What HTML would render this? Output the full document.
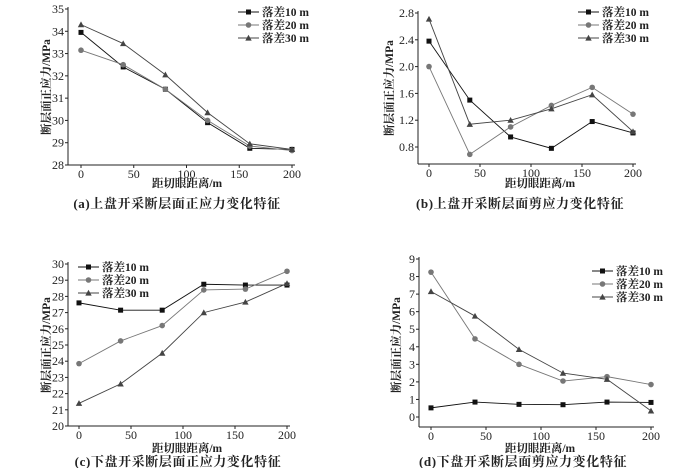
<!DOCTYPE html>
<html><head><meta charset="utf-8">
<style>
body{margin:0;background:#fff;}
svg{display:block;font-family:"Liberation Serif","Noto Serif CJK SC",serif;}
</style></head>
<body>
<svg id="chart" width="700" height="468" viewBox="0 0 700 468" xmlns="http://www.w3.org/2000/svg"></svg>
<script>
const xCats = [0, 40, 80, 120, 160, 200];
const xTicks = [0, 50, 100, 150, 200];
const seriesNames = ["落差10 m", "落差20 m", "落差30 m"];

const aTicks = [28, 29, 30, 31, 32, 33, 34, 35];
const a10 = [33.95, 32.4, 31.4, 29.9, 28.75, 28.7];
const a20 = [33.15, 32.5, 31.4, 30.0, 28.85, 28.65];
const a30 = [34.3, 33.45, 32.05, 30.35, 28.95, 28.7];

const bTicks = [0.8, 1.2, 1.6, 2.0, 2.4, 2.8];
const b10 = [2.38, 1.5, 0.95, 0.78, 1.18, 1.01];
const b20 = [2.0, 0.69, 1.1, 1.42, 1.69, 1.29];
const b30 = [2.71, 1.14, 1.2, 1.37, 1.58, 1.03];

const cTicks = [20, 21, 22, 23, 24, 25, 26, 27, 28, 29, 30];
const c10 = [27.6, 27.15, 27.15, 28.75, 28.7, 28.7];
const c20 = [23.85, 25.25, 26.2, 28.4, 28.45, 29.55];
const c30 = [21.4, 22.6, 24.5, 27.0, 27.65, 28.8];

const dTicks = [0, 1, 2, 3, 4, 5, 6, 7, 8, 9];
const d10 = [0.52, 0.85, 0.72, 0.7, 0.85, 0.83];
const d20 = [8.25, 4.45, 3.0, 2.05, 2.3, 1.85];
const d30 = [7.15, 5.75, 3.85, 2.5, 2.15, 0.35];

const NS = "http://www.w3.org/2000/svg";
const svg = document.getElementById("chart");
const colors = ["#111", "#777", "#444"];
const markers = ["square", "circle", "triangle"];

function mk(tag, attrs, parent) {
  const e = document.createElementNS(NS, tag);
  for (const k in attrs) e.setAttribute(k, attrs[k]);
  parent.appendChild(e);
  return e;
}
function txt(s, attrs, parent) { const t = mk("text", attrs, parent); t.textContent = s; return t; }
function marker(type, x, y, color, g) {
  let m;
  if (type === "square") m = mk("rect", {x: x - 2.5, y: y - 2.5, width: 5, height: 5, fill: color}, g);
  else if (type === "circle") m = mk("circle", {cx: x, cy: y, r: 2.8, fill: color}, g);
  else m = mk("polygon", {points: `${x},${y - 3.2} ${x - 3.2},${y + 2.6} ${x + 3.2},${y + 2.6}`, fill: color}, g);
  return m;
}

function panel(p) {
  const g = mk("g", {}, svg);
  
  
  const sx = v => p.x0 + (v - 0) * (p.x200 - p.x0) / 200;
  const sy = v => p.yb + (v - p.ymin) * (p.yt - p.yb) / (p.ymax - p.ymin);
  const axBottom = p.axB, axLeft = p.axL, axRight = p.x200 + 3;
  const ax = mk("g", {stroke: "#222", "stroke-width": 1, fill: "none"}, g);
  
  
  mk("line", {x1: axLeft, y1: axBottom, x2: axRight, y2: axBottom}, ax);
  mk("line", {x1: axLeft, y1: axBottom, x2: axLeft, y2: sy(p.ticks[p.ticks.length - 1]) - 2}, ax);
  xTicks.forEach(t => {
    mk("line", {x1: sx(t), y1: axBottom, x2: sx(t), y2: axBottom + 3}, ax);
    const l = txt(String(t), {x: sx(t), y: axBottom + 13, "text-anchor": "middle", "font-size": 12, fill: "#222"}, g);
    
    
  });
  p.ticks.forEach(t => {
    mk("line", {x1: axLeft, y1: sy(t), x2: axLeft - 3, y2: sy(t)}, ax);
    const l = txt(p.fmt(t), {x: axLeft - 4, y: sy(t) + 4, "text-anchor": "end", "font-size": 12, fill: "#222"}, g);
    
    
  });
  const yt = txt("断层面正应力/MPa", {x: 0, y: 0, transform: `translate(${p.ytx},${p.yty}) rotate(-90)`, "text-anchor": "middle", "font-size": 11.5, "font-weight": "bold", fill: "#222"}, g);
  
  
  const xt = txt("距切眼距离/m", {x: p.xtx, y: p.xty, "text-anchor": "middle", "font-size": 11.5, "font-weight": "bold", fill: "#222"}, g);
  
  
  const cap = txt(p.caption, {x: p.cx, y: p.cy, "text-anchor": "middle", "font-size": 13, "letter-spacing": "0.6", "font-weight": "bold", fill: "#222"}, g);
  
  

  p.series.forEach((vals, i) => {
    const sg = mk("g", {}, g);
    
    
    const pts = vals.map((v, j) => sx(xCats[j]) + "," + sy(v)).join(" ");
    mk("polyline", {points: pts, fill: "none", stroke: colors[i], "stroke-width": 0.9}, sg);
    vals.forEach((v, j) => {
      const m = marker(markers[i], sx(xCats[j]), sy(v), colors[i], sg);
      
      
    });
    const lg = mk("g", {}, g);
    
    
    const ly = p.ly + i * 13;
    mk("line", {x1: p.lx, y1: ly, x2: p.lx + 21, y2: ly, stroke: colors[i], "stroke-width": 0.9}, lg);
    marker(markers[i], p.lx + 10.5, ly, colors[i], lg);
    txt(seriesNames[i], {x: p.lx + 24, y: ly + 4, "font-size": 11.5, "font-weight": "bold", fill: "#222"}, lg);
  });
}

panel({id: "panel-a", x0: 81, x200: 292, axL: 68, axB: 165, ymin: 28, ymax: 35, yb: 165, yt: 9,
  ticks: aTicks, fmt: t => String(t), series: [a10, a20, a30],
  ytx: 50, yty: 87, xtx: 187, xty: 187, caption: "(a)上盘开采断层面正应力变化特征", cx: 177, cy: 208, lx: 238, ly: 12});
panel({id: "panel-b", x0: 429, x200: 633, axL: 418, axB: 164, ymin: 0.8, ymax: 2.8, yb: 147, yt: 13,
  ticks: bTicks, fmt: t => t.toFixed(1), series: [b10, b20, b30],
  ytx: 393, yty: 88, xtx: 540, xty: 187, caption: "(b)上盘开采断层面剪应力变化特征", cx: 520, cy: 208, lx: 578, ly: 12});
panel({id: "panel-c", x0: 79, x200: 287, axL: 68, axB: 426, ymin: 20, ymax: 30, yb: 426, yt: 264,
  ticks: cTicks, fmt: t => String(t), series: [c10, c20, c30],
  ytx: 50, yty: 345, xtx: 187, xty: 452, caption: "(c)下盘开采断层面正应力变化特征", cx: 178, cy: 466, lx: 78, ly: 267});
panel({id: "panel-d", x0: 431, x200: 651, axL: 419, axB: 427, ymin: 0, ymax: 9, yb: 417, yt: 259,
  ticks: dTicks, fmt: t => String(t), series: [d10, d20, d30],
  ytx: 400, yty: 345, xtx: 540, xty: 452, caption: "(d)下盘开采断层面剪应力变化特征", cx: 523, cy: 466, lx: 592, ly: 271});
</script>
</body></html>
